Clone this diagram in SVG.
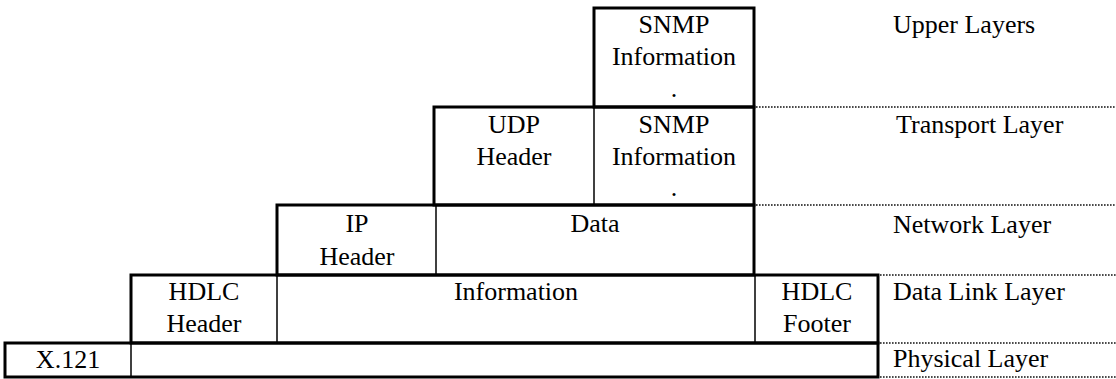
<svg xmlns="http://www.w3.org/2000/svg" width="1116" height="379" viewBox="0 0 1116 379">
  <style>
    .frame { fill: none; stroke: #000; stroke-width: 3; }
    .div { fill: none; stroke: #000; stroke-width: 1.5; }
    .rule { fill: none; stroke: #111; stroke-width: 1.6; stroke-dasharray: 1.6 1.4; }
    text { font-family: "Liberation Serif", "Times New Roman", serif; font-size: 26px; fill: #000; }
    .c { text-anchor: middle; }
  </style>
  <rect width="1116" height="379" fill="#fff"/>

  <!-- layer separators -->
  <g id="connectors">
    <line class="rule" x1="756" y1="107" x2="1116" y2="107"/>
    <line class="rule" x1="756" y1="205" x2="1116" y2="205"/>
    <line class="rule" x1="880" y1="275" x2="1116" y2="275"/>
    <line class="rule" x1="880" y1="343" x2="1116" y2="343"/>
    <line class="rule" x1="880" y1="377" x2="1116" y2="377"/>
  </g>

  <!-- upper layers -->
  <g id="snmp-upper">
    <rect class="frame" x="594" y="8" width="160" height="99"/>
    <text class="c" x="674" y="33">SNMP</text>
    <text class="c" x="674" y="65">Information</text>
    <text class="c" x="674" y="97">.</text>
  </g>

  <!-- transport layer -->
  <g id="udp-header">
    <rect class="frame" x="434" y="107" width="320" height="98"/>
    <text class="c" x="514" y="133">UDP</text>
    <text class="c" x="514" y="165">Header</text>
  </g>
  <g id="snmp-transport">
    <line class="div" x1="594" y1="107" x2="594" y2="205"/>
    <text class="c" x="674" y="133">SNMP</text>
    <text class="c" x="674" y="165">Information</text>
    <text class="c" x="674" y="196">.</text>
  </g>

  <!-- network layer -->
  <g id="ip-header">
    <rect class="frame" x="277" y="205" width="477" height="70"/>
    <text class="c" x="357" y="232">IP</text>
    <text class="c" x="357" y="265">Header</text>
  </g>
  <g id="ip-data">
    <line class="div" x1="436" y1="205" x2="436" y2="275"/>
    <text class="c" x="595" y="232">Data</text>
  </g>

  <!-- data link layer -->
  <g id="hdlc-header">
    <rect class="frame" x="131" y="275" width="747" height="68"/>
    <text class="c" x="204" y="300">HDLC</text>
    <text class="c" x="204" y="332">Header</text>
  </g>
  <g id="hdlc-information">
    <line class="div" x1="277" y1="275" x2="277" y2="343"/>
    <text class="c" x="516" y="300">Information</text>
  </g>
  <g id="hdlc-footer">
    <line class="div" x1="755" y1="275" x2="755" y2="343"/>
    <text class="c" x="817" y="300">HDLC</text>
    <text class="c" x="817" y="332">Footer</text>
  </g>

  <!-- physical layer -->
  <g id="x121">
    <rect class="frame" x="5" y="343" width="873" height="34"/>
    <line class="div" x1="131" y1="343" x2="131" y2="377"/>
    <text class="c" x="68" y="368">X.121</text>
  </g>

  <!-- layer names -->
  <g id="layer-names">
    <text x="893" y="33">Upper Layers</text>
    <text x="896" y="133">Transport Layer</text>
    <text x="893" y="233">Network Layer</text>
    <text x="893" y="300">Data Link Layer</text>
    <text x="893" y="367">Physical Layer</text>
  </g>
</svg>
